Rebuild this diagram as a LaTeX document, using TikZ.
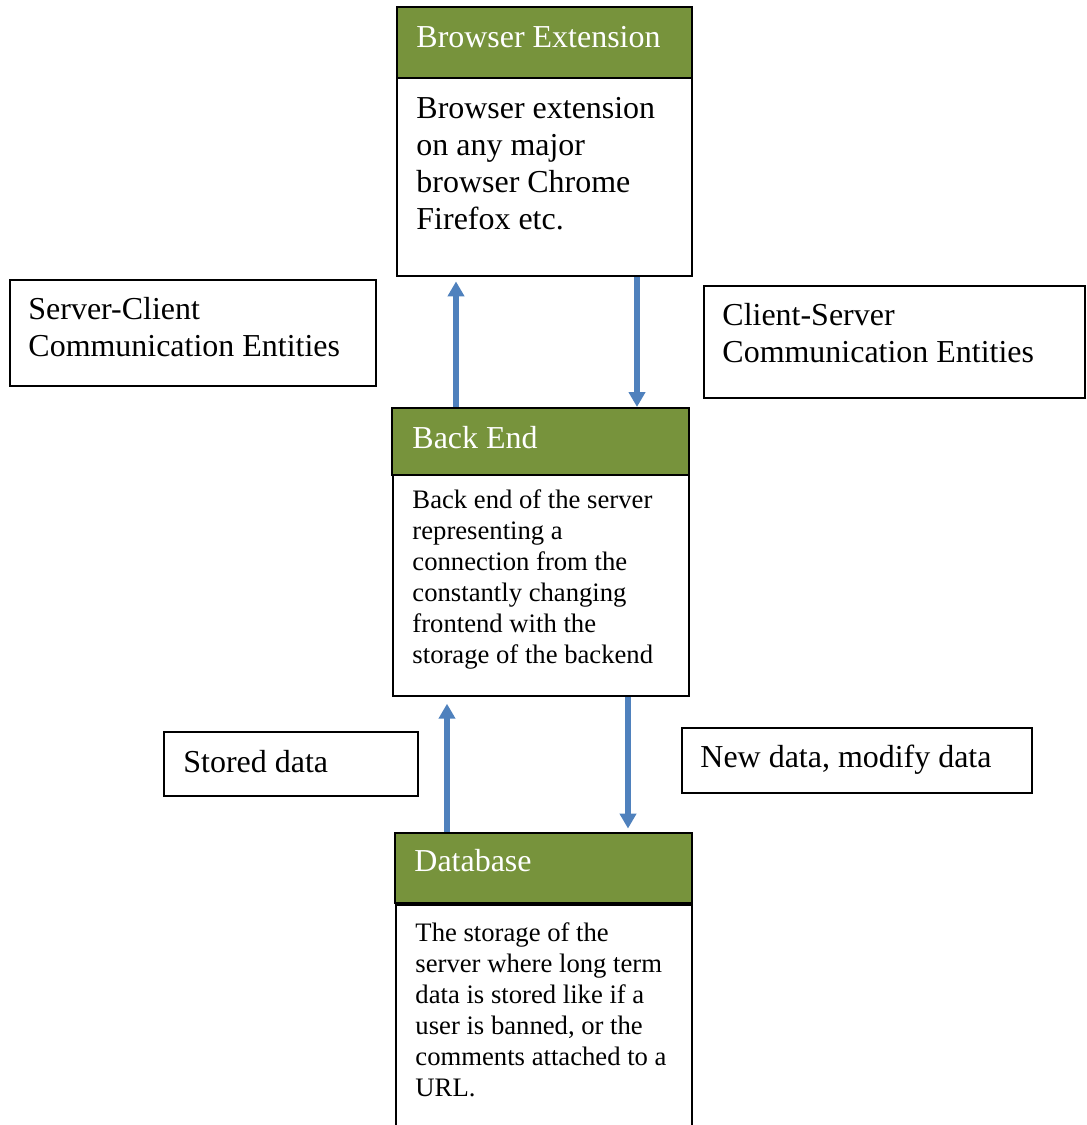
\documentclass[tikz,border=0pt]{standalone}
\usepackage{fontspec}
\setmainfont{Liberation Serif}
\usetikzlibrary{arrows.meta}
\definecolor{headgreen}{RGB}{119,147,60}
\definecolor{flowblue}{RGB}{79,129,189}
\newcommand{\pxu}{0.435pt}

\begin{document}
\begin{tikzpicture}[x=0.435pt,y=-0.435pt,
    box/.style={draw,line width=0.8pt,inner sep=0pt,anchor=north west},
    head/.style={box,fill=headgreen},
    txt/.style={inner sep=0pt,anchor=north west,align=left,font=\fontsize{13.9}{16.1}\selectfont},
    small/.style={txt,font=\fontsize{11.6}{13.5}\selectfont},
    flow/.style={flowblue,line width=2.2pt,-{Triangle[width=7pt,length=6.5pt]}}]
        \useasboundingbox (0,0) rectangle (1086,1125);
        % middle column
        \node[head,minimum width=295*\pxu,minimum height=71*\pxu] (exthead) at (396,6) {};
        \node[box,minimum width=295*\pxu,minimum height=198*\pxu] (extbody) at (396,77) {};
        \node[head,minimum width=297*\pxu,minimum height=67*\pxu] (bhead) at (391,407) {};
        \node[box,minimum width=296*\pxu,minimum height=221*\pxu] (bbody) at (392,474) {};
        \node[head,minimum width=297*\pxu,minimum height=70*\pxu] (dbhead) at (394,832) {};
        \node[box,minimum width=296*\pxu,minimum height=240*\pxu] (dbbody) at (395,904) {};
        \node[txt,white] (extheadtxt) at (416,26) {Browser Extension};
        \node[txt] (extbodytxt) at (416,97) {Browser extension\\on any major\\browser Chrome\\Firefox etc.};
        \node[txt,white] (bheadtxt) at (412,426) {Back End};
        \node[small] (bbodytxt) at (412,489) {Back end of the server\\representing a\\connection from the\\constantly changing\\frontend with the\\storage of the backend};
        \node[txt,white] (dbheadtxt) at (414,849) {Database};
        \node[small] (dbbodytxt) at (415,922) {The storage of the\\server where long term\\data is stored like if a\\user is banned, or the\\comments attached to a\\URL.};
        % side labels
        \node[box,minimum width=366*\pxu,minimum height=106*\pxu] (scbox) at (9,279) {};
        \node[txt] (sctxt) at (28,297) {Server-Client\\Communication Entities};
        \node[box,minimum width=381*\pxu,minimum height=112*\pxu] (csbox) at (703,285) {};
        \node[txt] (cstxt) at (722,303) {Client-Server\\Communication Entities};
        \node[box,minimum width=254*\pxu,minimum height=64*\pxu] (storedbox) at (163,731) {};
        \node[txt] (storedtxt) at (183,750) {Stored data};
        \node[box,minimum width=350*\pxu,minimum height=65*\pxu] (newbox) at (681,727) {};
        \node[txt] (newtxt) at (700,745) {New data, modify data};
        % arrows
        \coordinate (upa) at (456,0);
        \coordinate (downa) at (637,0);
        \coordinate (upb) at (447,0);
        \coordinate (downb) at (628,0);
        \draw[flow,shorten >=2pt] (bhead.north -| upa) -- (extbody.south -| upa);
        \draw[flow] (extbody.south -| downa) -- (bhead.north -| downa);
        \draw[flow,shorten >=3pt] (dbhead.north -| upb) -- (bbody.south -| upb);
        \draw[flow,shorten >=1.5pt] (bbody.south -| downb) -- (dbhead.north -| downb);
\end{tikzpicture}
\end{document}
